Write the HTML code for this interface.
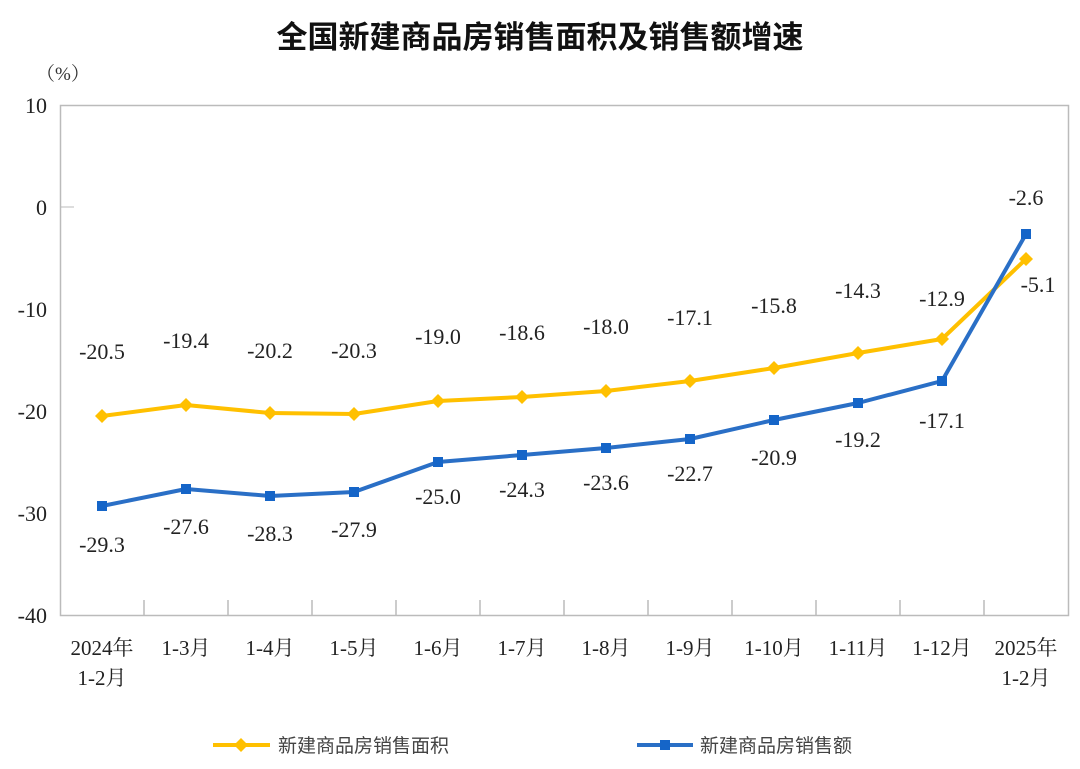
<!DOCTYPE html>
<html><head><meta charset="utf-8"><style>
html,body{margin:0;padding:0;background:#fff;}
svg{display:block;}
.n{font-family:"Liberation Serif","Noto Serif CJK SC",serif;font-size:22px;fill:#222;}
.c{font-family:"Liberation Serif","Noto Serif CJK SC",serif;font-size:21px;fill:#222;}
</style></head><body>
<svg width="1080" height="769" viewBox="0 0 1080 769" xmlns="http://www.w3.org/2000/svg">
<text x="540" y="48" text-anchor="middle" font-family="'Noto Sans CJK SC',sans-serif" font-size="31" font-weight="bold" fill="#111">全国新建商品房销售面积及销售额增速</text>
<text x="36" y="80" font-family="'Liberation Serif','Noto Serif CJK SC',serif" font-size="19" fill="#333">（%）</text>
<rect x="60.5" y="105.5" width="1008" height="510" fill="none" stroke="#bbb" stroke-width="1.5"/>
<line x1="60" y1="207" x2="74" y2="207" stroke="#bbb"/>
<g class="n" text-anchor="end">
<text x="47" y="113">10</text><text x="47" y="215">0</text><text x="47" y="317">-10</text>
<text x="47" y="419">-20</text><text x="47" y="521">-30</text><text x="47" y="623">-40</text>
</g>
<g stroke="#bbb" stroke-width="1.5">
<line x1="144" y1="600" x2="144" y2="616"/><line x1="228" y1="600" x2="228" y2="616"/><line x1="312" y1="600" x2="312" y2="616"/><line x1="396" y1="600" x2="396" y2="616"/><line x1="480" y1="600" x2="480" y2="616"/><line x1="564" y1="600" x2="564" y2="616"/><line x1="648" y1="600" x2="648" y2="616"/><line x1="732" y1="600" x2="732" y2="616"/><line x1="816" y1="600" x2="816" y2="616"/><line x1="900" y1="600" x2="900" y2="616"/><line x1="984" y1="600" x2="984" y2="616"/>
</g>
<g class="c" text-anchor="middle">
<text x="102" y="655">2024年</text><text x="102" y="685">1-2月</text>
<text x="186" y="655">1-3月</text><text x="270" y="655">1-4月</text><text x="354" y="655">1-5月</text>
<text x="438" y="655">1-6月</text><text x="522" y="655">1-7月</text><text x="606" y="655">1-8月</text>
<text x="690" y="655">1-9月</text><text x="774" y="655">1-10月</text><text x="858" y="655">1-11月</text>
<text x="942" y="655">1-12月</text><text x="1026" y="655">2025年</text><text x="1026" y="685">1-2月</text>
</g>
<polyline fill="none" stroke="#ffc000" stroke-width="4" stroke-linejoin="round" points="102,416 186,405 270,413 354,414 438,401 522,397 606,391 690,381 774,368 858,353 942,339 1026,259"/>
<g fill="#ffc000">
<path d="M102,409 l7,7 -7,7 -7,-7z"/><path d="M186,398 l7,7 -7,7 -7,-7z"/><path d="M270,406 l7,7 -7,7 -7,-7z"/><path d="M354,407 l7,7 -7,7 -7,-7z"/><path d="M438,394 l7,7 -7,7 -7,-7z"/><path d="M522,390 l7,7 -7,7 -7,-7z"/><path d="M606,384 l7,7 -7,7 -7,-7z"/><path d="M690,374 l7,7 -7,7 -7,-7z"/><path d="M774,361 l7,7 -7,7 -7,-7z"/><path d="M858,346 l7,7 -7,7 -7,-7z"/><path d="M942,332 l7,7 -7,7 -7,-7z"/><path d="M1026,252 l7,7 -7,7 -7,-7z"/>
</g>
<polyline fill="none" stroke="#2a6fc6" stroke-width="4" stroke-linejoin="round" points="102,506 186,489 270,496 354,492 438,462 522,455 606,448 690,439 774,420 858,403 942,381 1026,234"/>
<g fill="#1565c8">
<rect x="97" y="501" width="10" height="10"/><rect x="181" y="484" width="10" height="10"/><rect x="265" y="491" width="10" height="10"/><rect x="349" y="487" width="10" height="10"/><rect x="433" y="457" width="10" height="10"/><rect x="517" y="450" width="10" height="10"/><rect x="601" y="443" width="10" height="10"/><rect x="685" y="434" width="10" height="10"/><rect x="769" y="415" width="10" height="10"/><rect x="853" y="398" width="10" height="10"/><rect x="937" y="376" width="10" height="10"/><rect x="1021" y="229" width="10" height="10"/>
</g>
<g class="n" text-anchor="middle">
<text x="102" y="359">-20.5</text><text x="186" y="348">-19.4</text><text x="270" y="358">-20.2</text><text x="354" y="358">-20.3</text>
<text x="438" y="344">-19.0</text><text x="522" y="340">-18.6</text><text x="606" y="334">-18.0</text><text x="690" y="325">-17.1</text>
<text x="774" y="313">-15.8</text><text x="858" y="298">-14.3</text><text x="942" y="306">-12.9</text><text x="1038" y="292">-5.1</text>
<text x="102" y="552">-29.3</text><text x="186" y="534">-27.6</text><text x="270" y="541">-28.3</text><text x="354" y="537">-27.9</text>
<text x="438" y="504">-25.0</text><text x="522" y="497">-24.3</text><text x="606" y="490">-23.6</text><text x="690" y="481">-22.7</text>
<text x="774" y="465">-20.9</text><text x="858" y="447">-19.2</text><text x="942" y="428">-17.1</text><text x="1026" y="205">-2.6</text>
</g>
<line x1="213" y1="745" x2="270" y2="745" stroke="#ffc000" stroke-width="4"/>
<path d="M241,738 l7,7 -7,7 -7,-7z" fill="#ffc000"/>
<text x="278" y="752" font-family="'Noto Sans CJK SC',sans-serif" font-size="19" fill="#444">新建商品房销售面积</text>
<line x1="637" y1="745" x2="693" y2="745" stroke="#2a6fc6" stroke-width="4"/>
<rect x="660" y="740" width="10" height="10" fill="#1565c8"/>
<text x="700" y="752" font-family="'Noto Sans CJK SC',sans-serif" font-size="19" fill="#444">新建商品房销售额</text>
</svg>
</body></html>
